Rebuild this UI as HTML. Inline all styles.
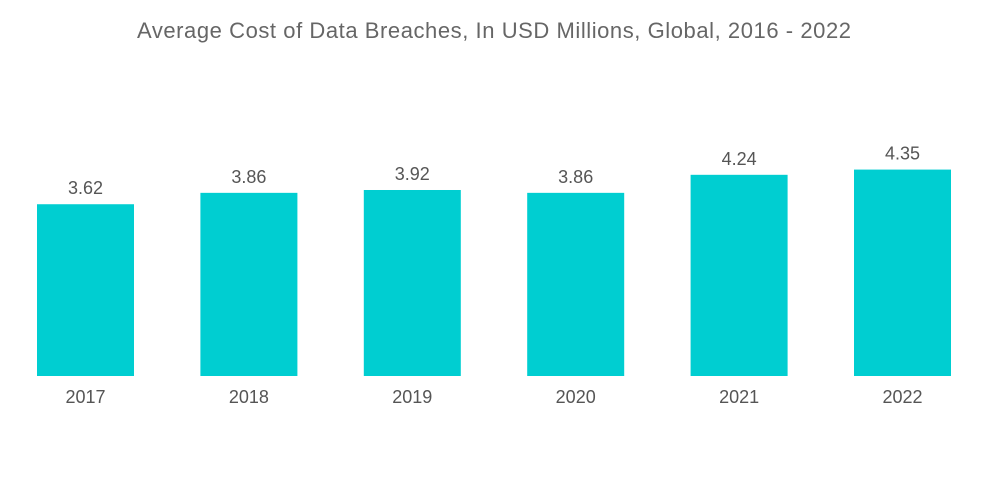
<!DOCTYPE html>
<html><head><meta charset="utf-8"><style>
body{margin:0;background:#fff;}
svg{display:block;font-family:"Liberation Sans",sans-serif;}
</style></head><body>
<svg id="chart" width="1000" height="504">
<text x="494" y="38" text-anchor="middle" font-size="22" textLength="714" fill="#666">Average Cost of Data Breaches, In USD Millions, Global, 2016 - 2022</text>
<g id="bars"></g>
</svg>
<script>
const categories = ["2017","2018","2019","2020","2021","2022"];
const values = [3.62, 3.86, 3.92, 3.86, 4.24, 4.35];
const valueLabels = ["3.62","3.86","3.92","3.86","4.24","4.35"];
const baseline = 376, scale = 47.45, c0 = 85.5, step = 163.4, bw = 97;
const xPos = i => c0 + i * step;
const yPos = v => baseline - v * scale;
const g = document.getElementById('bars');
const ns = 'http://www.w3.org/2000/svg';
categories.forEach((c, i) => {
  const r = document.createElementNS(ns, 'rect');
  r.setAttribute('x', xPos(i) - bw / 2);
  r.setAttribute('y', yPos(values[i]));
  r.setAttribute('width', bw);
  r.setAttribute('height', baseline - yPos(values[i]));
  r.setAttribute('fill', '#00CED1');
  
  
  g.appendChild(r);
  const t = document.createElementNS(ns, 'text');
  t.setAttribute('x', xPos(i));
  t.setAttribute('y', yPos(values[i]) - 10);
  t.setAttribute('text-anchor', 'middle');
  t.setAttribute('font-size', '18');
  t.setAttribute('fill', '#555');
  t.textContent = valueLabels[i];
  
  
  g.appendChild(t);
  const l = document.createElementNS(ns, 'text');
  l.setAttribute('x', xPos(i));
  l.setAttribute('y', 403);
  l.setAttribute('text-anchor', 'middle');
  l.setAttribute('font-size', '18');
  l.setAttribute('fill', '#555');
  l.textContent = c;
  
  
  g.appendChild(l);
});
</script>
</body></html>
